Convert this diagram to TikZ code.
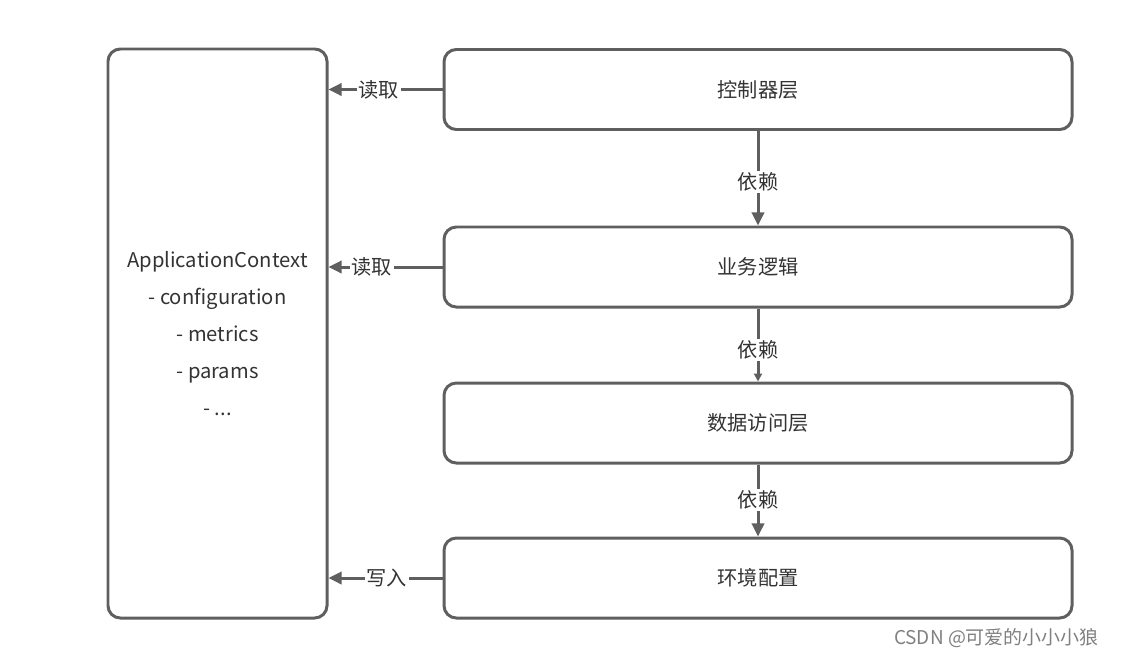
\documentclass[tikz,border=0pt]{standalone}
\usepackage{fontspec}
\setmainfont{Noto Sans CJK SC}
\usetikzlibrary{arrows.meta}
\definecolor{linegray}{HTML}{5F5F5F}
\definecolor{textgray}{HTML}{333333}
\tikzstyle{every node}=[text=textgray,font=\fontsize{11.5}{21}\selectfont]
\tikzstyle{layer}=[draw=linegray,line width=1.7pt,rounded corners=7pt,minimum width=12.56cm,minimum height=1.6cm]
\tikzstyle{context}=[draw=linegray,line width=1.7pt,rounded corners=7pt,minimum width=4.38cm,minimum height=11.38cm,align=center]
\tikzstyle{link}=[draw=linegray,line width=1.7pt,-{Triangle[length=7.5pt,width=7pt]}]
\tikzstyle{tag}=[fill=white,inner sep=1pt]

\begin{document}
\begin{tikzpicture}
  \useasboundingbox (0,0) rectangle (22.44,-13.16);
  \node[context] (ctx) at (4.35,-6.67) {ApplicationContext\\- configuration\\- metrics\\- params\\- ...};
  \node[layer] (ctrl) at (15.16,-1.79) {控制器层};
  \node[layer] (logic) at (15.16,-5.34) {业务逻辑};
  \node[layer] (dao) at (15.16,-8.46) {数据访问层};
  \node[layer] (env) at (15.16,-11.56) {环境配置};
  % reading and writing the context
  \draw[link] (ctrl.west) -- node[tag,pos=0.56] {读取} (ctrl.west -| ctx.east);
  \draw[link] (logic.west) -- node[tag,pos=0.62] {读取} (logic.west -| ctx.east);
  \draw[link] (env.west) -- node[tag,pos=0.49] {写入} (env.west -| ctx.east);
  % dependencies between layers
  \draw[link] (ctrl) -- node[tag,pos=0.54] {依赖} (logic);
  \draw[draw=linegray,line width=1.7pt,-{Triangle[length=4.5pt,width=4.5pt]}] (logic) -- node[tag,pos=0.57] {依赖} (dao);
  \draw[link] (dao) -- node[tag,pos=0.49] {依赖} (env);
  \node[text=gray,font=\fontsize{10.8}{13}\selectfont,anchor=east] (mark) at (22.1,-12.76) {CSDN @可爱的小小小狼};
\end{tikzpicture}
\end{document}
